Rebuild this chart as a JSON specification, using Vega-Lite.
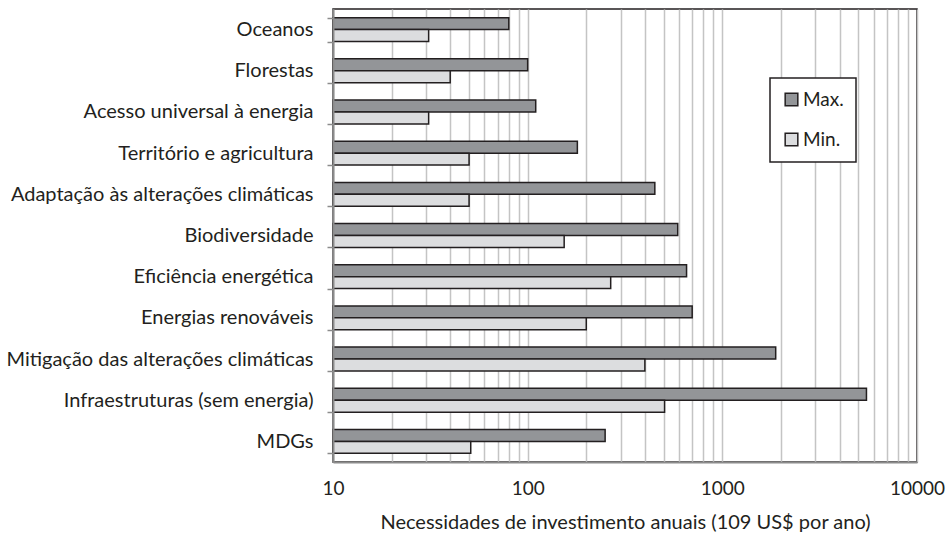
{
  "$schema": "https://vega.github.io/schema/vega-lite/v6.json",
  "autosize": {"type": "none"},
  "width": 584,
  "height": 453,
  "padding": {"left": 333, "top": 9, "right": 31, "bottom": 71},
  "background": "white",
  "config": {
    "font": "Lato",
    "view": {"stroke": "#231f20", "strokeWidth": 1.5}
  },
  "data": {
    "values": [
      {"area": "Oceanos", "serie": "Max.", "valor": 80},
      {"area": "Oceanos", "serie": "Min.", "valor": 31},
      {"area": "Florestas", "serie": "Max.", "valor": 100},
      {"area": "Florestas", "serie": "Min.", "valor": 40},
      {"area": "Acesso universal à energia", "serie": "Max.", "valor": 110},
      {"area": "Acesso universal à energia", "serie": "Min.", "valor": 31},
      {"area": "Território e agricultura", "serie": "Max.", "valor": 180},
      {"area": "Território e agricultura", "serie": "Min.", "valor": 50},
      {"area": "Adaptação às alterações climáticas", "serie": "Max.", "valor": 450},
      {"area": "Adaptação às alterações climáticas", "serie": "Min.", "valor": 50},
      {"area": "Biodiversidade", "serie": "Max.", "valor": 590},
      {"area": "Biodiversidade", "serie": "Min.", "valor": 154},
      {"area": "Eficiência energética", "serie": "Max.", "valor": 655},
      {"area": "Eficiência energética", "serie": "Min.", "valor": 267},
      {"area": "Energias renováveis", "serie": "Max.", "valor": 700},
      {"area": "Energias renováveis", "serie": "Min.", "valor": 200},
      {"area": "Mitigação das alterações climáticas", "serie": "Max.", "valor": 1880},
      {"area": "Mitigação das alterações climáticas", "serie": "Min.", "valor": 400},
      {"area": "Infraestruturas (sem energia)", "serie": "Max.", "valor": 5500},
      {"area": "Infraestruturas (sem energia)", "serie": "Min.", "valor": 505},
      {"area": "MDGs", "serie": "Max.", "valor": 250},
      {"area": "MDGs", "serie": "Min.", "valor": 51}
    ]
  },
  "mark": {"type": "bar", "stroke": "#231f20", "strokeWidth": 1.5},
  "encoding": {
    "y": {
      "field": "area",
      "type": "nominal",
      "sort": null,
      "scale": {"paddingInner": 0.42, "paddingOuter": 0.21},
      "axis": {
        "title": null,
        "labelFont": "Lato",
        "labelFontSize": 20,
        "labelColor": "#231f20",
        "labelPadding": 14,
        "labelLimit": 400,
        "tickBand": "extent",
        "tickSize": 6,
        "tickColor": "#8c8c8c",
        "tickWidth": 1.5,
        "domainColor": "#8c8c8c",
        "domainWidth": 2,
        "zindex": 1
      }
    },
    "yOffset": {"field": "serie", "type": "nominal", "sort": ["Max.", "Min."]},
    "x": {
      "field": "valor",
      "type": "quantitative",
      "title": "Necessidades de investimento anuais (109 US$ por ano)",
      "scale": {"type": "log", "domain": [10, 10000], "nice": false},
      "axis": {
        "values": [10, 20, 30, 40, 50, 60, 70, 80, 90, 100, 200, 300, 400, 500, 600, 700, 800, 900, 1000, 2000, 3000, 4000, 5000, 6000, 7000, 8000, 9000, 10000],
        "format": "d",
        "labelExpr": "indexof(['10','100','1000','10000'], datum.label) >= 0 ? datum.label : ''",
        "labelFont": "Lato",
        "labelFontSize": 19,
        "labelColor": "#231f20",
        "labelPadding": 17,
        "labelFlush": false,
        "ticks": false,
        "grid": true,
        "gridColor": "#c4c4c4",
        "gridWidth": 1.5,
        "domainColor": "#8c8c8c",
        "domainWidth": 2,
        "titleFont": "Lato",
        "titleFontSize": 20,
        "titleFontWeight": "normal",
        "titleColor": "#231f20",
        "titlePadding": 14
      }
    },
    "x2": {"datum": 10},
    "fill": {
      "field": "serie",
      "type": "nominal",
      "sort": ["Max.", "Min."],
      "scale": {"domain": ["Max.", "Min."], "range": ["#939598", "#dcdddf"]},
      "legend": {
        "title": null,
        "orient": "none",
        "legendX": 437,
        "legendY": 69,
        "symbolType": "square",
        "symbolSize": 160,
        "symbolStrokeColor": "#231f20",
        "symbolStrokeWidth": 1.5,
        "symbolOpacity": 1,
        "labelFont": "Lato",
        "labelFontSize": 19,
        "labelColor": "#231f20",
        "labelOffset": 2,
        "rowPadding": 20,
        "padding": 12,
        "strokeColor": "#231f20",
        "fillColor": "white",
        "encode": {"legend": {"update": {"strokeWidth": {"value": 1.5}}}}
      }
    }
  }
}
